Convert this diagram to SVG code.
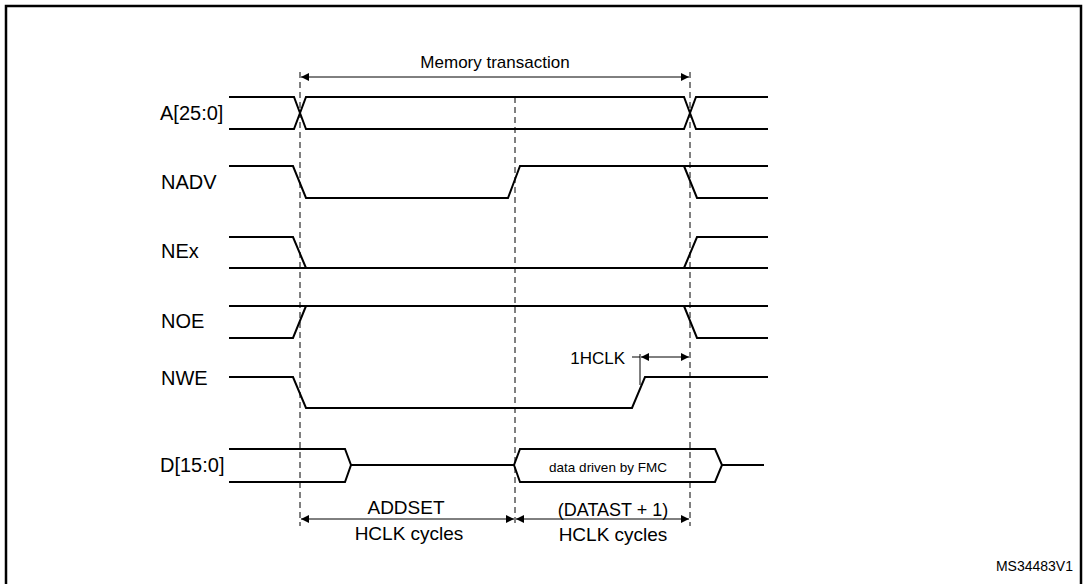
<svg xmlns="http://www.w3.org/2000/svg" width="1085" height="584" viewBox="0 0 1085 584">
<defs>
<marker id="ah" viewBox="0 0 10 10" refX="10" refY="5" markerWidth="10" markerHeight="8" markerUnits="userSpaceOnUse" orient="auto-start-reverse"><path d="M0,0 L10,5 L0,10 z" fill="#000"/></marker>
<style>
.s{fill:none;stroke:#000;stroke-width:2}
.d{fill:none;stroke:#000;stroke-width:1;stroke-dasharray:6,4}
.a{fill:none;stroke:#000;stroke-width:1;marker-start:url(#ah);marker-end:url(#ah)}
text{font-family:"Liberation Sans",Arial,sans-serif;fill:#000}
.l{font-size:20px}
</style>
</defs>
<rect x="6" y="6" width="1075" height="590" fill="none" stroke="#000" stroke-width="2.5"/>
<g id="labels">
<text class="l" x="160" y="120">A[25:0]</text>
<text class="l" x="161" y="189">NADV</text>
<text class="l" x="161" y="258">NEx</text>
<text class="l" x="161" y="328">NOE</text>
<text class="l" x="161" y="385">NWE</text>
<text class="l" x="160" y="472">D[15:0]</text>
<text x="495" y="68" text-anchor="middle" font-size="17">Memory transaction</text>
<text x="406" y="514" text-anchor="middle" font-size="19">ADDSET</text>
<text x="409" y="540" text-anchor="middle" font-size="19">HCLK cycles</text>
<text x="613" y="516" text-anchor="middle" font-size="18">(DATAST + 1)</text>
<text x="613" y="541" text-anchor="middle" font-size="19">HCLK cycles</text>
<text x="625" y="364" text-anchor="end" font-size="17">1HCLK</text>
<text x="608" y="472" text-anchor="middle" font-size="13.5">data driven by FMC</text>
<text x="1073" y="571" text-anchor="end" font-size="14">MS34483V1</text>
</g>
<g id="signals">
<path class="s" d="M229,97 H294 L306,129 H684 L696,97 H768 M229,129 H294 L306,97 H684 L696,129 H768"/>
<path class="s" d="M229,166 H293 L306,198 H508 L520,166 H768 M684,166 L697,198 H768"/>
<path class="s" d="M229,237 H293 L306,268 M229,268 H768 M684,268 L697,237 H768"/>
<path class="s" d="M229,306 H768 M229,338 H293 L306,306 M684,306 L697,338 H768"/>
<path class="s" d="M229,377 H293 L306,408 H632 L645,377 H768"/>
<path class="s" d="M229,449 H345 L351,465 L345,482 H229 M351,465 H514 L520,449 H715 L722,465 L715,482 H520 L514,465 M722,465 H764"/>
</g>
<g id="connectors">
<path class="d" d="M300,72 V526 M515,97 V526 M690,72 V526"/>
<line class="a" x1="301" y1="77" x2="689" y2="77"/>
<line class="a" x1="301" y1="519" x2="514" y2="519"/>
<line class="a" x1="516" y1="519" x2="689" y2="519"/>
<line class="a" x1="641" y1="357" x2="689" y2="357"/>
<path d="M640,354 V385 M632,357 H640" style="fill:none;stroke:#000;stroke-width:1"/>
</g>
</svg>
